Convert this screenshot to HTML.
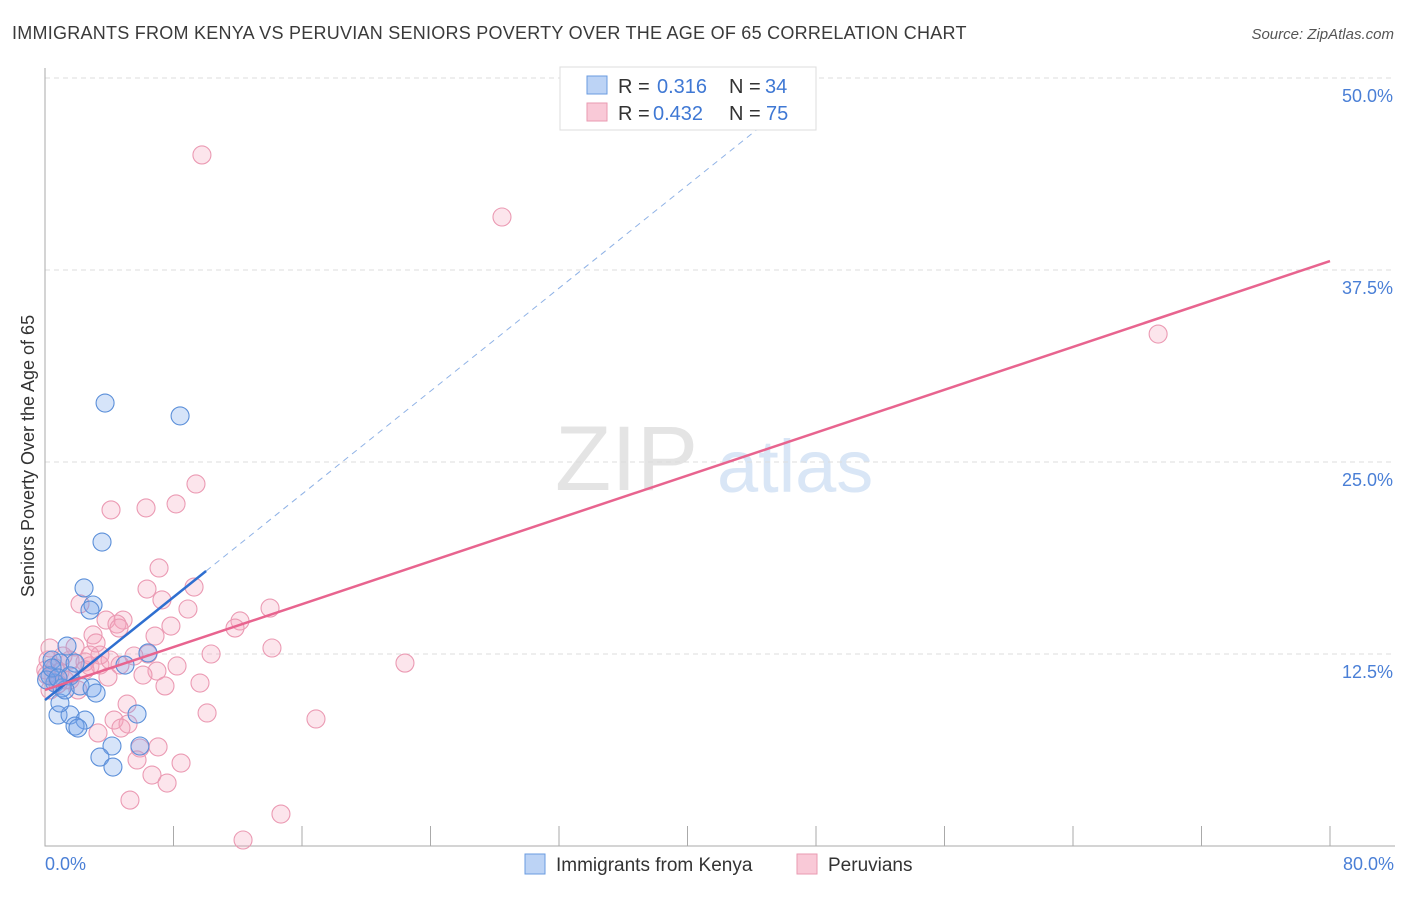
<!DOCTYPE html>
<html><head><meta charset="utf-8"><style>
body{margin:0;background:#fff;font-family:"Liberation Sans",sans-serif;}
svg text{font-family:"Liberation Sans",sans-serif;}
</style></head><body>
<svg id="chart" width="1406" height="892" xmlns="http://www.w3.org/2000/svg">
<text x="12" y="39" font-size="18" fill="#3a3a3a" letter-spacing="0.25">IMMIGRANTS FROM KENYA VS PERUVIAN SENIORS POVERTY OVER THE AGE OF 65 CORRELATION CHART</text>
<text x="1394" y="39" font-size="15" fill="#555" font-style="italic" text-anchor="end">Source: ZipAtlas.com</text>
<g><text x="555" y="490" font-size="92" fill="#e4e4e4" font-family="Liberation Serif">ZIP</text><text x="717" y="492" font-size="74" fill="#d9e6f6">atlas</text></g>
<g id="grid"></g><g id="axes"></g><g id="pts"></g><g id="lines"></g>
<text transform="translate(34,456) rotate(-90)" font-size="18" fill="#333" text-anchor="middle">Seniors Poverty Over the Age of 65</text>
<text x="45" y="870" font-size="18" fill="#4a7fd6">0.0%</text>
<text x="1394" y="870" font-size="18" fill="#4a7fd6" text-anchor="end">80.0%</text>
<g>
<rect x="560" y="67" width="256" height="63" fill="#fff" stroke="#ddd"/>
<rect x="587" y="76" width="20" height="18" fill="#bcd3f5" stroke="#6a9be0"/>
<rect x="587" y="103" width="20" height="18" fill="#f9c9d7" stroke="#e99ab2"/>
<text x="618" y="93" font-size="20" fill="#333">R =</text><text x="657" y="93" font-size="20" fill="#3f78d4">0.316</text>
<text x="729" y="93" font-size="20" fill="#333">N =</text><text x="765" y="93" font-size="20" fill="#3f78d4">34</text>
<text x="618" y="120" font-size="20" fill="#333">R =</text><text x="653" y="120" font-size="20" fill="#3f78d4">0.432</text>
<text x="729" y="120" font-size="20" fill="#333">N =</text><text x="766" y="120" font-size="20" fill="#3f78d4">75</text>
</g>
<g>
<rect x="525" y="854" width="20" height="20" fill="#bcd3f5" stroke="#6a9be0"/>
<text x="556" y="871" font-size="19" fill="#333">Immigrants from Kenya</text>
<rect x="797" y="854" width="20" height="20" fill="#f9c9d7" stroke="#e99ab2"/>
<text x="828" y="871" font-size="19" fill="#333">Peruvians</text>
</g>
</svg>
<script>
const yTicks=[12.5,25,37.5,50];
const yTickLabels=["12.5%","25.0%","37.5%","50.0%"];
const xTicks=[0,8,16,24,32,40,48,56,64,72,80];
const kenyaX=[3.74,8.41,3.55,2.43,2.99,2.80,1.37,0.44,0.93,1.87,1.56,0.62,1.06,2.18,2.93,3.18,4.98,0.81,1.56,2.49,1.87,2.05,0.93,5.73,4.17,5.91,3.42,4.23,6.41,0.31,0.1,1.25,0.44,0.81];
const kenyaY=[28.84,28.0,19.79,16.8,15.69,15.36,13.02,12.11,11.91,11.91,11.07,10.61,10.29,10.42,10.29,9.96,11.78,8.53,8.53,8.2,7.81,7.68,9.31,8.59,6.51,6.51,5.79,5.14,12.57,11.07,10.81,10.16,11.59,10.94];
const peruX=[9.77,28.45,69.3,9.40,8.16,6.29,4.11,7.10,9.28,6.35,7.28,2.18,8.90,14.01,4.86,3.80,4.48,12.14,7.84,4.61,11.83,2.99,6.85,3.18,14.13,6.41,3.42,1.87,5.54,10.34,1.56,2.49,4.67,8.22,6.97,22.41,6.10,3.92,9.65,7.47,0.19,0.62,0.05,0.93,2.80,1.25,0.31,10.09,5.11,16.87,4.30,5.17,3.30,4.73,5.91,7.04,8.47,5.73,6.66,7.60,5.29,14.69,12.33,3.42,2.49,1.56,2.80,4.05,0.31,1.12,2.05,0.81,0.12];
const peruY=[44.99,40.95,33.33,23.57,22.27,22.01,21.88,18.1,16.86,16.73,16.02,15.76,15.43,15.49,14.71,14.71,14.45,14.65,14.32,14.19,14.19,13.74,13.67,13.22,12.89,12.5,12.43,12.96,12.37,12.5,12.11,11.98,11.78,11.72,11.39,11.91,11.13,11.0,10.61,10.42,12.11,11.59,11.46,11.33,11.72,10.81,10.16,8.66,9.24,8.27,8.2,7.94,7.36,7.68,6.38,6.45,5.4,5.6,4.62,4.1,2.99,2.08,0.39,11.78,11.46,10.81,12.43,12.11,12.89,12.37,10.16,10.55,11.13];
const kenyaTrend=[9.5,0.838];
const peruTrend=[10.16,0.349];
const NS="http://www.w3.org/2000/svg";
const X=v=>45+v/80*1285, Y=v=>846-v/50*768;
function mk(t,a,p){const e=document.createElementNS(NS,t);for(const k in a)e.setAttribute(k,a[k]);p.appendChild(e);return e;}
const grid=document.getElementById('grid'),axes=document.getElementById('axes'),pts=document.getElementById('pts'),lines=document.getElementById('lines');
yTicks.forEach((t,i)=>{
 const l=mk('line',{x1:45,x2:1395,y1:Y(t),y2:Y(t),stroke:'#ddd','stroke-dasharray':'5,4'},grid);
 
 
 const tx=mk('text',{x:1393,y:Y(t)+24,'font-size':18,fill:'#4a7fd6','text-anchor':'end'},grid);
 tx.textContent=yTickLabels[i];
 
 
});
const ax=mk('path',{d:'M45 68V846H1395',fill:'none',stroke:'#aaa'},axes);


xTicks.forEach(t=>{
 const l=mk('line',{x1:X(t),x2:X(t),y1:826,y2:846,stroke:'#aaa'},axes);
 
 
});
peruX.forEach((x,i)=>{
 const c=mk('circle',{cx:X(x),cy:Y(peruY[i]),r:9,fill:'rgba(244,160,186,0.28)',stroke:'#eb9ab3','stroke-width':1.1},pts);
 
 
});
kenyaX.forEach((x,i)=>{
 const c=mk('circle',{cx:X(x),cy:Y(kenyaY[i]),r:9,fill:'rgba(120,165,235,0.3)',stroke:'#5b8fd9','stroke-width':1.1},pts);
 
 
});
const kEnd=10.03, kDash=(50-kenyaTrend[0])/kenyaTrend[1]*0.92;
const kd=mk('line',{x1:X(kEnd),y1:Y(kenyaTrend[0]+kenyaTrend[1]*kEnd),x2:X(kDash),y2:Y(kenyaTrend[0]+kenyaTrend[1]*kDash),stroke:'#8fb2e6','stroke-dasharray':'6,5','stroke-width':1},lines);


const kl=mk('line',{x1:X(0),y1:Y(kenyaTrend[0]),x2:X(kEnd),y2:Y(kenyaTrend[0]+kenyaTrend[1]*kEnd),stroke:'#2f6fd0','stroke-width':2.5},lines);


const pl=mk('line',{x1:X(0),y1:Y(peruTrend[0]),x2:X(80),y2:Y(peruTrend[0]+peruTrend[1]*80),stroke:'#e8648f','stroke-width':2.5},lines);


</script>
</body></html>
